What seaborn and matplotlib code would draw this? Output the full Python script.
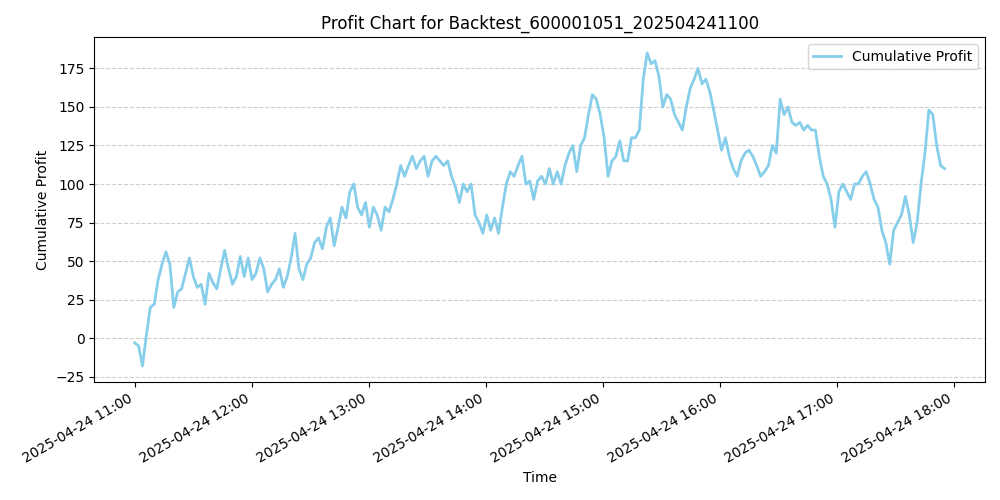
import matplotlib
matplotlib.use("Agg")
import matplotlib.pyplot as plt
import matplotlib.dates as mdates
import seaborn as sns
import pandas as pd

title = "Profit Chart for Backtest_600001051_202504241100"
start_time = "2025-04-24 11:00"
end_time = "2025-04-24 17:55"
profit = [-3, -5, -18, 2, 20, 22, 38, 48, 56, 48, 20, 30, 32, 42, 52, 40, 33, 35, 22, 42,
          36, 32, 45, 57, 45, 35, 40, 53, 40, 52, 38, 42, 52, 45, 30, 35, 38, 45, 33, 40,
          52, 68, 45, 38, 48, 52, 62, 65, 58, 72, 78, 60, 72, 85, 78, 95, 100, 85, 80, 88,
          72, 85, 80, 70, 85, 82, 90, 100, 112, 105, 112, 118, 110, 115, 118, 105, 115, 118, 115, 112,
          115, 105, 98, 88, 100, 95, 100, 80, 75, 68, 80, 70, 78, 68, 85, 100, 108, 105, 112, 118,
          100, 102, 90, 102, 105, 100, 110, 100, 108, 100, 112, 120, 125, 108, 125, 130, 145, 158, 155, 145,
          130, 105, 115, 118, 128, 115, 115, 130, 130, 135, 168, 185, 178, 180, 170, 150, 158, 155, 145, 140,
          135, 150, 162, 168, 175, 165, 168, 160, 148, 135, 122, 130, 118, 110, 105, 115, 120, 122, 118, 112,
          105, 108, 112, 125, 120, 155, 145, 150, 140, 138, 140, 135, 138, 135, 135, 118, 105, 100, 90, 72,
          95, 100, 95, 90, 100, 100, 105, 108, 100, 90, 85, 70, 62, 48, 70, 75, 80, 92, 80, 62,
          75, 100, 120, 148, 145, 125, 112, 110]

times = pd.date_range(start_time, end_time, periods=len(profit))
df = pd.DataFrame({"Time": times, "Cumulative Profit": profit})

fig, ax = plt.subplots(figsize=(10, 5), dpi=100)
sns.lineplot(data=df, x="Time", y="Cumulative Profit", ax=ax, color="skyblue",
             linewidth=2, label="Cumulative Profit")
ax.set_title(title)
ax.set_xlabel("Time")
ax.set_ylabel("Cumulative Profit")
ax.grid(axis="y", linestyle="--", alpha=0.6)
ax.xaxis.set_major_locator(mdates.HourLocator())
ax.xaxis.set_major_formatter(mdates.DateFormatter("%Y-%m-%d %H:%M"))
ax.legend(loc="upper right")
fig.autofmt_xdate()
fig.tight_layout()
fig.savefig("out.png")
